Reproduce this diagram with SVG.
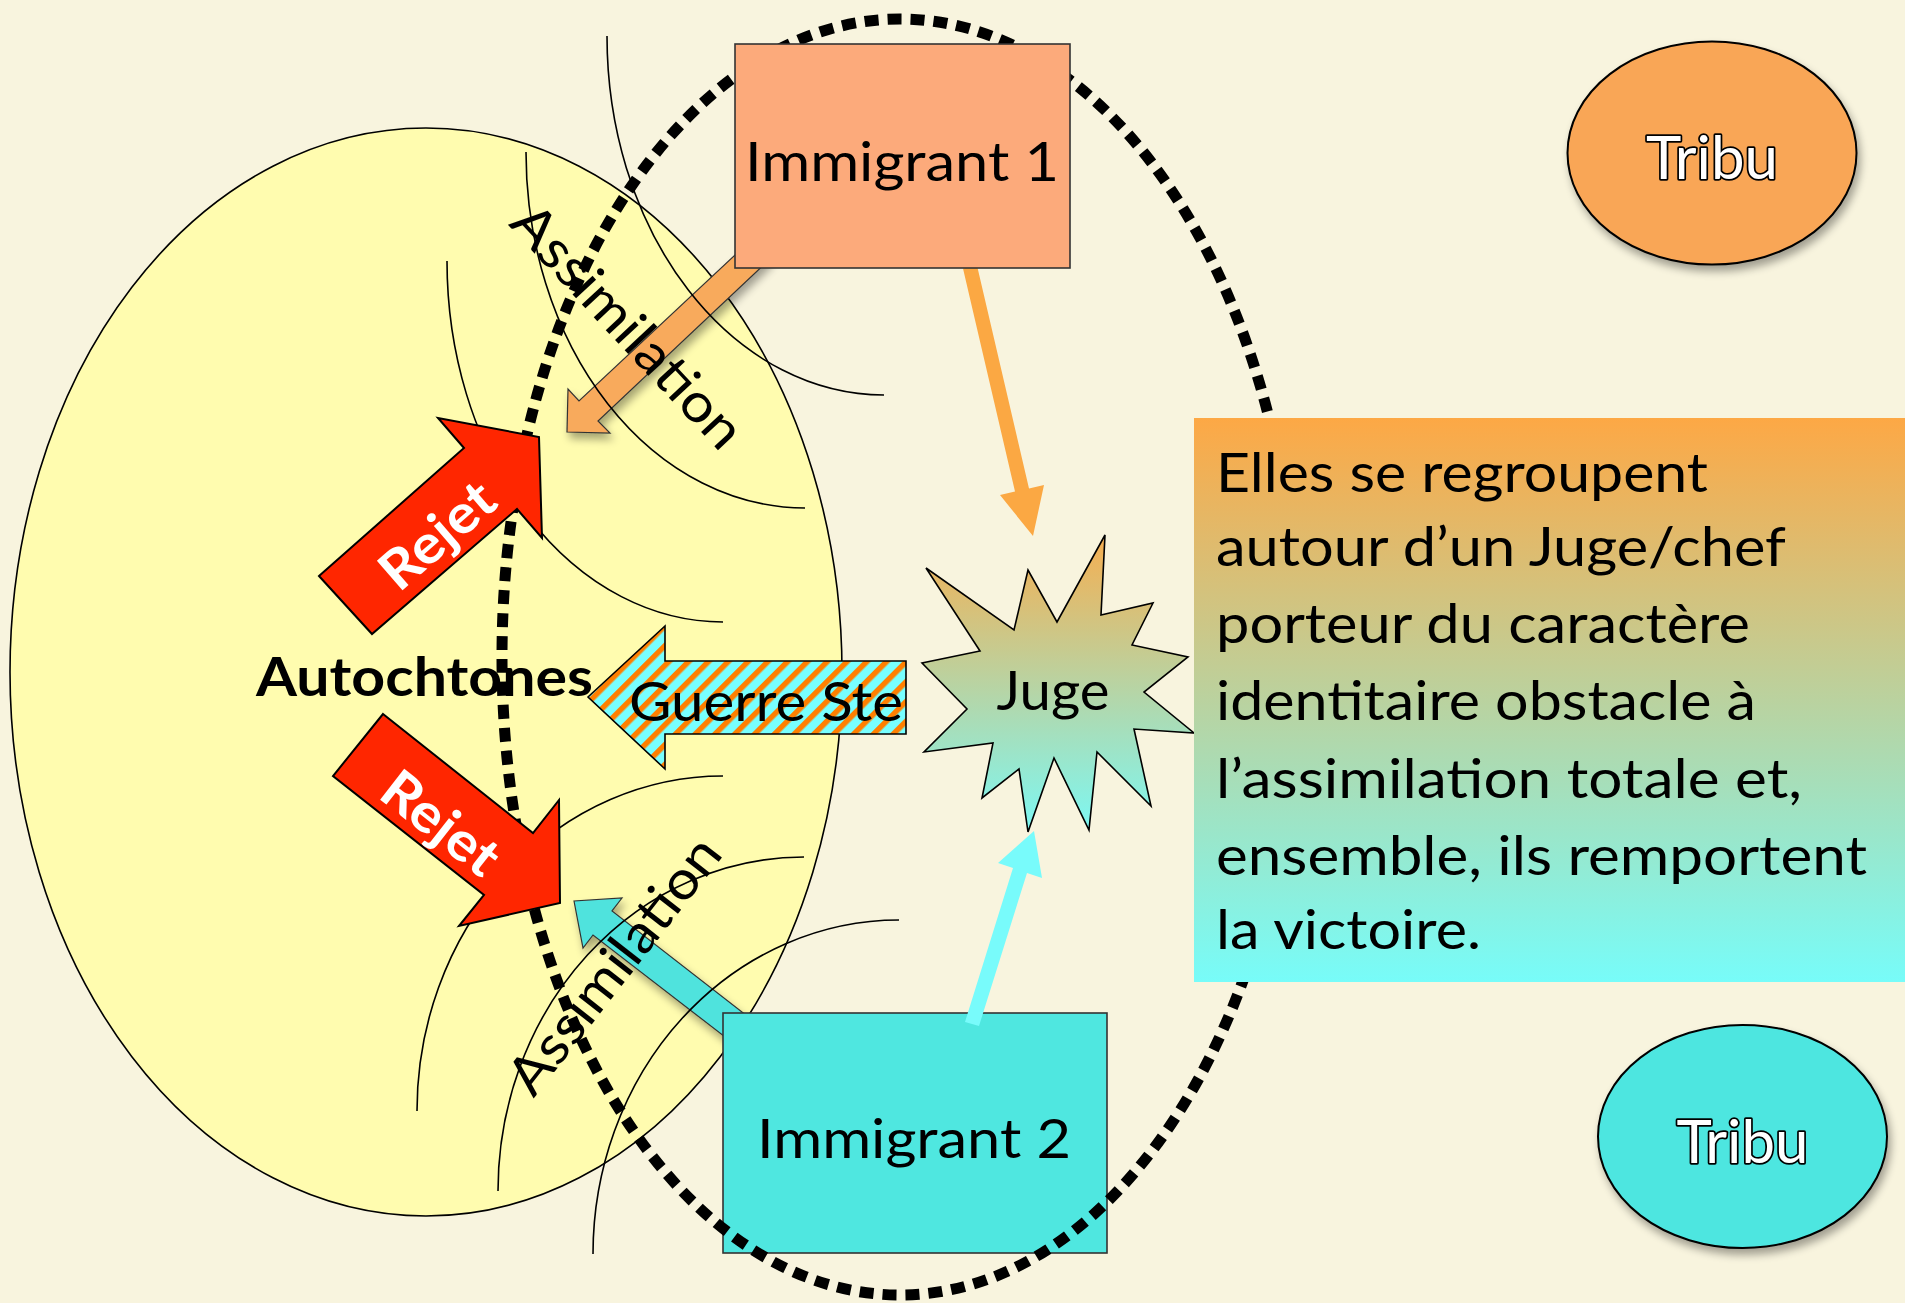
<svg xmlns="http://www.w3.org/2000/svg" width="1905" height="1303" viewBox="0 0 1905 1303">
<style>
.t{font-family:Lato,"Open Sans","Liberation Sans",sans-serif;font-size:54px;fill:#000}
.b{font-weight:bold}
.w{fill:#fff}
.tribu{font-family:Lato,"Open Sans","Liberation Sans",sans-serif;font-size:60px;fill:#fff;stroke:#000;stroke-width:3.5;paint-order:stroke fill;stroke-linejoin:round}
.arc{fill:none;stroke:#000;stroke-width:1.6}
.red{fill:#FF2600;stroke:#000;stroke-width:2;stroke-linejoin:miter}
.box{stroke:#333;stroke-width:1.6}
</style>
<defs>
<filter id="sh" x="-20%" y="-20%" width="150%" height="150%">
<feGaussianBlur in="SourceAlpha" stdDeviation="4"/>
<feOffset dx="3" dy="6"/>
<feComponentTransfer><feFuncA type="linear" slope="0.35"/></feComponentTransfer>
<feMerge><feMergeNode/><feMergeNode in="SourceGraphic"/></feMerge>
</filter>
<pattern id="stripes" patternUnits="userSpaceOnUse" width="14" height="14" patternTransform="rotate(45)">
<rect width="14" height="14" fill="#77FFFF"/>
<rect width="5.5" height="14" fill="#FF7F00"/>
</pattern>
<linearGradient id="gStar" x1="0" y1="0" x2="0" y2="1">
<stop offset="0" stop-color="#F6AE50"/>
<stop offset="1" stop-color="#7CF8F4"/>
</linearGradient>
<linearGradient id="gBox" x1="0" y1="0" x2="0" y2="1">
<stop offset="0" stop-color="#FDA845"/>
<stop offset="1" stop-color="#77FCF9"/>
</linearGradient>
</defs>
<rect width="1905" height="1303" fill="#F8F4DE"/>

<g id="autochtones">
<ellipse cx="426" cy="672" rx="416" ry="544" fill="#FFFCAF" stroke="#000" stroke-width="1.6"/>
</g>

<g id="connectors">
<polygon id="assim1-arrow" filter="url(#sh)" fill="#F8AA5C" stroke="#333" stroke-width="1.2" points="567,432 610,433 598,421 770,259 751,240 579,401 568,389"/>
<polygon id="assim2-arrow" filter="url(#sh)" fill="#4FE3DD" stroke="#333" stroke-width="1.2" points="574,901 583,948 593,935 751,1057 769,1033 612,911 622,898"/>
<polygon id="imm1-juge" fill="#FBA843" points="963,268.6 977,265.4 1029,488.4 1044,485 1033,536 1000,495 1015,491.6"/>
</g>

<g id="arcs">
<path class="arc" d="M607,36 A277,359 0 0 0 884,395"/>
<path class="arc" d="M526,152 A279,356 0 0 0 805,508"/>
<path class="arc" d="M447,261 A276,361 0 0 0 723,622"/>
<path class="arc" d="M723,776 A306,335 0 0 0 417,1111"/>
<path class="arc" d="M804,857 A306,334 0 0 0 498,1191"/>
<path class="arc" d="M899,920 A306,334 0 0 0 593,1254"/>
</g>

<g id="immigrant2">
<rect class="box" x="723" y="1013" width="384" height="240" fill="#4FE7E0"/>
<text class="t" x="914" y="1158" text-anchor="middle" textLength="314" lengthAdjust="spacingAndGlyphs">Immigrant 2</text>
</g>

<g id="groupe">
<ellipse cx="900" cy="657" rx="398" ry="638" fill="none" stroke="#000" stroke-width="11" stroke-dasharray="14 9"/>
</g>

<g id="immigrant1">
<rect class="box" x="735" y="44" width="335" height="224" fill="#FCAA7B"/>
<text class="t" x="902" y="181" text-anchor="middle" textLength="314" lengthAdjust="spacingAndGlyphs">Immigrant 1</text>
</g>

<g id="assim-labels">
<text class="t" transform="translate(628,326) rotate(47)" x="0" y="19" text-anchor="middle" textLength="312" lengthAdjust="spacingAndGlyphs">Assimilation</text>
<text class="t" transform="translate(614,965) rotate(-52)" x="0" y="19" text-anchor="middle" textLength="310" lengthAdjust="spacingAndGlyphs">Assimilation</text>
</g>

<g id="autochtones-label">
<text class="t b" x="256" y="696" textLength="337" lengthAdjust="spacingAndGlyphs">Autochtones</text>
</g>

<g id="rejet1">
<polygon class="red" points="319,576 464,448 438,418 539,437 542,538 517,509 372,634"/>
<text class="t b w" transform="translate(437,535) rotate(-41)" x="0" y="19" text-anchor="middle" textLength="134" lengthAdjust="spacingAndGlyphs">Rejet</text>
</g>

<g id="rejet2">
<polygon class="red" points="383,714 533,833 559,800 560,903 459,926 484,895 333,776"/>
<text class="t b w" transform="translate(441,823) rotate(38)" x="0" y="19" text-anchor="middle" textLength="134" lengthAdjust="spacingAndGlyphs">Rejet</text>
</g>

<g id="guerre">
<polygon points="588,697 665,626 665,661 906,661 906,734 665,734 665,769" fill="url(#stripes)" stroke="#000" stroke-width="1.6"/>
<text class="t" x="629" y="721" textLength="274" lengthAdjust="spacingAndGlyphs">Guerre Ste</text>
</g>

<g id="juge">
<polygon fill="url(#gStar)" stroke="#000" stroke-width="1.6" points="1105,535 1101,615 1153,603 1132,645 1188,657 1144,692 1194,733 1134,729 1151,806 1097,752 1089,830 1054,758 1028,832 1019,769 982,798 993,743 924,752 967,709 922,663 980,651 926,568 1014,630 1028,570 1057,622"/>
<text class="t" x="1053" y="710" text-anchor="middle" textLength="113" lengthAdjust="spacingAndGlyphs">Juge</text>
</g>

<g id="connectors2">
<polygon id="imm2-juge" fill="#78FBFB" points="965,1022 1013,868 998,863 1034,831 1042,878 1027,873 979,1026"/>
</g>

<g id="explication">
<rect x="1194" y="418" width="711" height="564" fill="url(#gBox)"/>
<text class="t" x="1216" y="492" textLength="492" lengthAdjust="spacingAndGlyphs">Elles se regroupent</text>
<text class="t" x="1216" y="566" textLength="570" lengthAdjust="spacingAndGlyphs">autour d’un Juge/chef</text>
<text class="t" x="1216" y="643" textLength="534" lengthAdjust="spacingAndGlyphs">porteur du caractère</text>
<text class="t" x="1216" y="720" textLength="540" lengthAdjust="spacingAndGlyphs">identitaire obstacle à</text>
<text class="t" x="1216" y="798" textLength="586" lengthAdjust="spacingAndGlyphs">l’assimilation totale et,</text>
<text class="t" x="1216" y="875" textLength="651" lengthAdjust="spacingAndGlyphs">ensemble, ils remportent</text>
<text class="t" x="1216" y="949" textLength="265" lengthAdjust="spacingAndGlyphs">la victoire.</text>
</g>

<g id="tribu1">
<ellipse cx="1712" cy="153" rx="144.5" ry="111.5" fill="#F9A656" stroke="#000" stroke-width="2" filter="url(#sh)"/>
<text class="tribu" x="1712" y="179" text-anchor="middle" textLength="132" lengthAdjust="spacingAndGlyphs">Tribu</text>
</g>

<g id="tribu2">
<ellipse cx="1742.5" cy="1136.5" rx="144.5" ry="111.5" fill="#4EE6E0" stroke="#000" stroke-width="2" filter="url(#sh)"/>
<text class="tribu" x="1742.5" y="1163" text-anchor="middle" textLength="132" lengthAdjust="spacingAndGlyphs">Tribu</text>
</g>
</svg>
